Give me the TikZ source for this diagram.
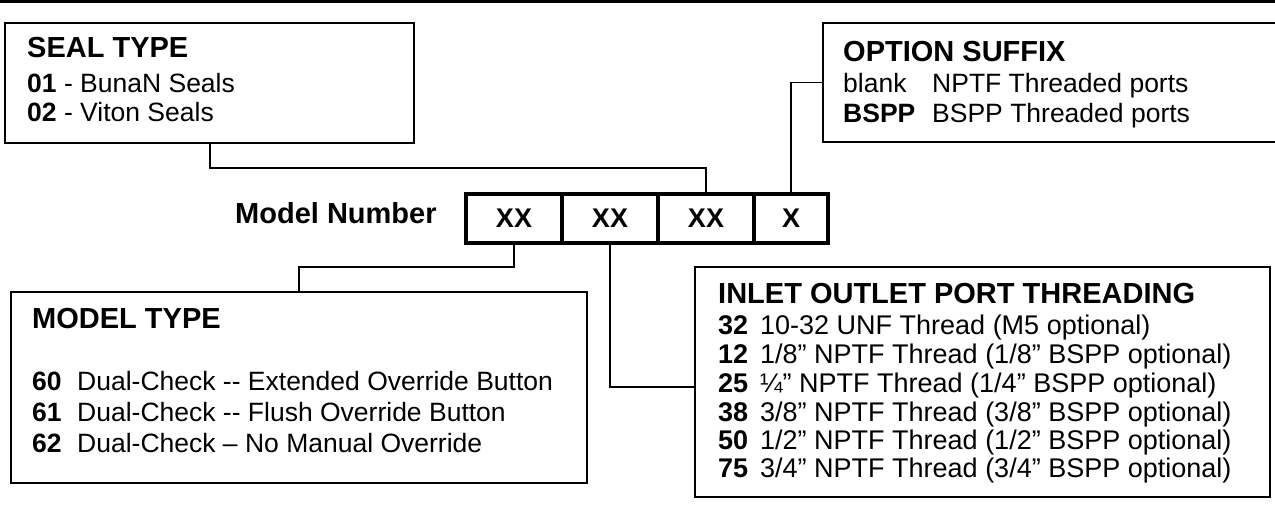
\documentclass[tikz,border=0pt]{standalone}
\usepackage{fontspec}
\setmainfont{Liberation Sans}
\tikzset{
  box/.style={draw, line width=1.7pt, inner sep=0pt, outer sep=0pt, anchor=north west},
  cell/.style={draw, line width=3.5pt, inner sep=0pt, outer sep=0pt, anchor=north west,
    minimum height=49pt, font=\bfseries\fontsize{27}{27}\selectfont},
  ttl/.style={anchor=base west, inner sep=0pt, font=\bfseries\fontsize{29}{29}\selectfont},
  txt/.style={anchor=base west, inner sep=0pt, font=\fontsize{26.5}{30}\selectfont},
  itxt/.style={anchor=base west, inner sep=0pt, font=\fontsize{27}{30}\selectfont},
  link/.style={line width=1.5pt},
}
\begin{document}
\begin{tikzpicture}[x=1pt,y=-1pt]
\useasboundingbox (0,0) rectangle (1275,508);
\clip (0,0) rectangle (1275,508);
\fill (0,0) rectangle (1275,3);

% boxes
\node[box, minimum width=409pt, minimum height=120pt] (seal) at (5,23) {};
\node[box, minimum width=470pt, minimum height=119pt] (opt) at (823,23) {};
\node[box, minimum width=576pt, minimum height=191pt] (mt) at (11,292) {};
\node[box, minimum width=575pt, minimum height=230pt] (inl) at (695,267) {};

% model number cells
\node[ttl] (mn) at (235,223) {Model Number};
\node[cell, minimum width=96pt] (c1) at (466,194) {XX};
\node[cell, minimum width=96pt] (c2) at (562,194) {XX};
\node[cell, minimum width=96pt] (c3) at (658,194) {XX};
\node[cell, minimum width=74pt] (c4) at (754,194) {X};

% connectors
\draw[link] ([xshift=205pt]seal.south west) -- ++(0,25) -| (c3.north);
\draw[link] (c4.north) |- (opt.west);
\draw[link] (c1.south) -- ++(0,24) -| ([xshift=288pt]mt.north west);
\draw[link] (c2.south) |- ([yshift=-5pt]inl.west);

% seal type
\node[ttl] (sealT) at (27,58) {SEAL TYPE};
\node[txt] (seal1) at (27,93) {\textbf{01} - BunaN Seals};
\node[txt] (seal2) at (27,122) {\textbf{02} - Viton Seals};

% option suffix
\node[ttl] (optT) at (843,62) {OPTION SUFFIX};
\node[txt] (opt1a) at (843,93) {blank};
\node[txt] (opt1b) at (932,93) {NPTF Threaded ports};
\node[txt] (opt2a) at (843,123) {\textbf{BSPP}};
\node[txt] (opt2b) at (932,123) {BSPP Threaded ports};

% model type
\node[ttl] (mtT) at (32,328) {MODEL TYPE};
\node[txt] (mt1n) at (32,390) {\textbf{60}};
\node[txt] (mt1d) at (77,390) {Dual-Check -{}- Extended Override Button};
\node[txt] (mt2n) at (32,421) {\textbf{61}};
\node[txt] (mt2d) at (77,421) {Dual-Check -{}- Flush Override Button};
\node[txt] (mt3n) at (32,452) {\textbf{62}};
\node[txt] (mt3d) at (77,452) {Dual-Check – No Manual Override};

% inlet outlet
\node[ttl] (inlT) at (718,303) {INLET OUTLET PORT THREADING};
\node[itxt] (i1n) at (718,334) {\textbf{32}};
\node[itxt] (i1d) at (760,334) {10-32 UNF Thread (M5 optional)};
\node[itxt] (i2n) at (718,363) {\textbf{12}};
\node[itxt] (i2d) at (760,363) {1/8” NPTF Thread (1/8” BSPP optional)};
\node[itxt] (i3n) at (718,392) {\textbf{25}};
\node[itxt] (i3d) at (760,392) {¼” NPTF Thread (1/4” BSPP optional)};
\node[itxt] (i4n) at (718,421) {\textbf{38}};
\node[itxt] (i4d) at (760,421) {3/8” NPTF Thread (3/8” BSPP optional)};
\node[itxt] (i5n) at (718,449) {\textbf{50}};
\node[itxt] (i5d) at (760,449) {1/2” NPTF Thread (1/2” BSPP optional)};
\node[itxt] (i6n) at (718,477) {\textbf{75}};
\node[itxt] (i6d) at (760,477) {3/4” NPTF Thread (3/4” BSPP optional)};
\end{tikzpicture}
\end{document}
